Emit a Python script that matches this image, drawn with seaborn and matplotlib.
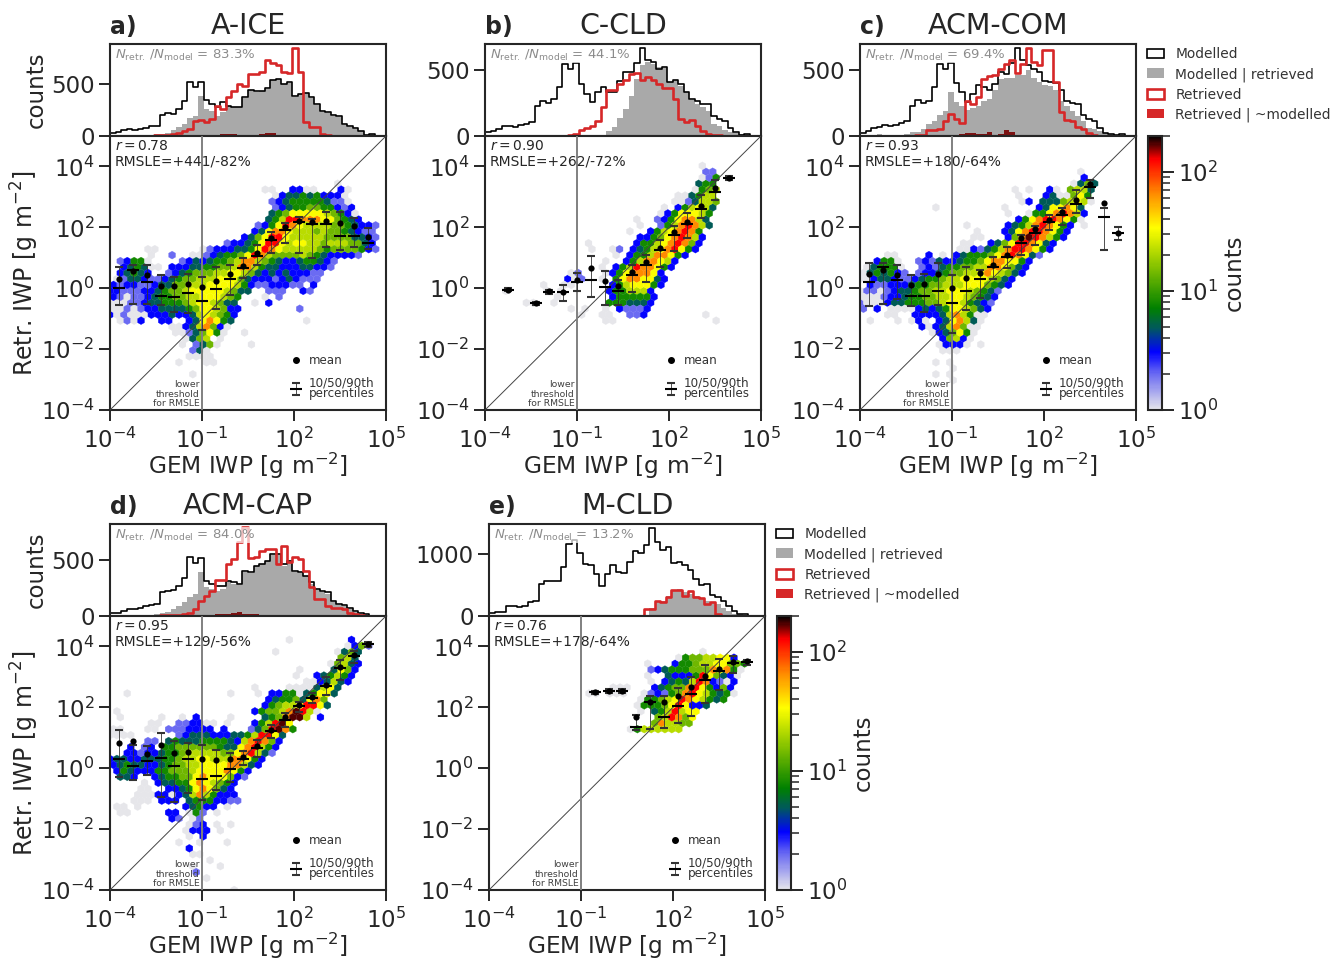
import numpy as np
import matplotlib
matplotlib.use("Agg")
import matplotlib.pyplot as plt
import seaborn as sns
from matplotlib.colors import LinearSegmentedColormap, LogNorm
from matplotlib.lines import Line2D
from matplotlib.patches import Patch

# histogram counts, 50 bins across 10^-4 .. 10^5
A_MODEL = [30,40,55,65,60,70,80,95,100,205,225,215,260,340,520,475,520,350,310,280,325,285,275,275,372,447,430,437,460,540,550,502,518,380,405,415,372,308,243,227,204,195,113,97,75,49,6,15,3,0]
A_GRAY = [0,0,0,3,5,5,8,10,15,20,32,55,88,120,172,195,380,260,236,195,227,285,275,275,365,440,425,430,455,535,545,498,510,375,400,410,365,300,235,220,195,185,105,90,70,45,5,20,12,2]
A_RED = [0,0,0,0,1,2,3,3,5,8,10,20,30,50,65,147,155,135,160,290,260,372,437,500,480,600,600,620,730,705,680,615,605,845,615,130,90,85,15,5,3,0,0,0,0,0,0,0,0,0]
A_EXTRA = [0,0,0,0,0,0,0,0,0,0,0,0,0,0,0,0,0,0,5,10,15,20,20,12,8,10,12,15,30,28,5,0,0,0,0,0,0,0,0,0,0,0,0,0,0,0,0,0,0,0]

B_MODEL = [33,38,50,75,75,68,80,94,105,230,268,250,280,370,548,510,553,395,318,255,331,375,331,331,420,485,485,553,663,574,561,510,523,408,425,395,331,280,268,242,242,153,128,115,59,33,5,12,3,0]
B_GRAY = [0,0,0,0,0,0,0,0,0,0,0,0,0,0,0,0,0,0,0,0,0,0,38,69,140,204,306,434,536,561,548,523,518,408,425,382,330,273,242,217,191,89,76,43,33,23,12,12,3,0]
B_RED = [0,0,0,0,0,0,0,0,0,0,0,0,0,0,3,5,12,43,59,77,115,217,345,345,395,425,472,480,425,446,425,395,365,365,280,128,107,122,77,38,18,10,5,0,0,0,0,0,0,0]
B_EXTRA = [0,0,0,0,0,0,0,0,0,0,0,0,0,0,0,0,0,0,0,0,0,0,0,0,0,0,0,0,0,0,0,0,0,0,0,0,0,0,0,0,0,0,0,0,0,0,0,0,0,0]

C_MODEL = [25,38,58,68,84,76,84,102,110,225,272,250,268,370,545,505,550,400,332,255,318,390,370,345,395,485,472,553,663,574,536,510,485,416,408,403,345,263,252,242,160,128,115,59,25,18,5,12,3,0]
C_GRAY = [0,0,2,12,8,5,8,10,15,33,28,51,89,115,160,186,337,255,230,200,215,230,268,280,345,434,441,441,459,459,497,440,408,390,382,345,268,230,191,153,110,60,50,38,20,18,10,10,2,0]
C_RED = [0,0,0,0,0,1,3,3,2,3,5,8,43,43,51,115,166,128,102,268,242,293,434,451,459,510,548,574,480,543,663,561,536,650,650,408,179,120,115,69,51,25,8,3,0,0,0,0,0,0]
C_EXTRA = [0,0,0,0,0,0,0,0,0,0,0,0,0,0,0,0,0,3,15,20,20,15,15,33,8,15,43,30,5,0,0,0,0,0,0,0,0,0,0,0,0,0,0,0,0,0,0,0,0,0]

D_MODEL = [30,30,45,66,60,69,90,99,111,216,219,231,270,340,525,471,519,315,285,270,270,315,300,285,400,390,450,465,495,549,549,465,490,405,390,360,300,240,219,210,135,110,100,70,45,24,15,3,0,0]
D_GRAY = [0,0,0,2,5,5,5,8,15,25,40,60,85,125,170,200,390,255,240,220,245,300,290,280,395,385,445,460,490,545,540,450,480,395,385,355,290,230,210,200,125,100,90,60,40,20,12,3,0,0]
D_RED = [0,0,0,0,0,0,0,0,3,5,6,8,10,15,25,60,135,180,225,324,324,465,510,660,795,519,530,579,600,600,465,624,480,525,513,405,255,150,150,90,75,70,65,25,15,5,0,0,0,0]
D_EXTRA = [0,0,0,0,0,0,0,0,0,0,0,0,0,0,0,0,0,0,5,15,20,20,25,35,20,15,15,10,0,0,0,0,0,0,0,0,0,0,0,0,0,0,0,0,0,0,0,0,0,0]

E_MODEL = [43,70,70,163,163,147,163,218,245,516,560,571,571,789,1159,1224,1023,843,816,680,490,680,827,707,696,870,1050,1023,1142,1414,1197,1061,1115,854,870,816,734,598,506,516,343,299,245,163,82,27,27,8,0,0]
E_GRAY = [0,0,0,0,0,0,0,0,0,0,0,0,0,0,0,0,0,0,0,0,0,0,0,0,0,0,0,0,5,136,234,245,326,408,435,380,354,326,272,245,218,190,125,82,38,27,10,0,0,0]
E_RED = [0,0,0,0,0,0,0,0,0,0,0,0,0,0,0,0,0,0,0,0,0,0,0,0,0,0,0,0,109,109,245,230,300,424,424,326,397,300,288,200,218,27,0,0,0,0,0,0,0,0]
E_EXTRA = [0,0,0,0,0,0,0,0,0,0,0,0,0,0,0,0,0,0,0,0,0,0,0,0,0,0,0,0,0,0,0,0,0,0,0,0,0,0,0,0,0,0,0,0,0,0,0,0,0,0]

# binned stats in log10 units, 20 x bins
STAT_X = [-3.7,-3.25,-2.8,-2.35,-1.9,-1.45,-1.0,-0.55,-0.1,0.35,0.8,1.25,1.7,2.15,2.6,3.05,3.5,3.95,4.4]

A_IDX = list(range(19))
A_MEAN = [.31,.58,.42,.08,.08,.14,.03,.24,.47,.73,1.15,1.64,2.0,2.22,2.19,2.22,2.14,2.03,1.67]
A_MED = [0,.6,.21,-.24,-.3,-.16,-.42,-.02,.31,.66,1.06,1.57,1.92,2.19,2.1,2.12,1.7,1.73,1.48]
A_P10 = [-.55,-.53,-.53,-.55,-.77,-.8,-1.37,-.69,-.22,.33,.77,1.15,1.48,1.15,.99,1.35,1.24,1.37,1.28]
A_P90 = [.69,.77,.77,.42,.38,.47,.38,.69,.77,.99,1.42,1.86,2.14,2.33,2.27,2.52,2.5,2.3,1.97]

B_IDX = [1,3,4,5,6,7,8,9,10,11,12,13,14,15,16,17]
B_MEAN = [-.05,-.49,-.1,-.11,.27,.68,.25,.08,.53,.85,1.32,1.84,2.19,2.71,3.29,3.62]
B_MED = [-.05,-.49,-.12,-.14,.19,.27,.05,-.08,.43,.75,1.26,1.75,2.1,2.6,3.16,3.61]
B_P10 = [-.1,-.54,-.19,-.41,-.1,-.3,-.55,-.55,-.11,.2,.71,1.21,1.64,2.32,2.9,3.54]
B_P90 = [0,-.44,-.05,.09,.49,1.07,.58,.27,.77,1.1,1.59,2.03,2.47,3.07,3.56,3.69]

C_IDX = list(range(19))
C_MEAN = [.47,.6,.42,.11,.14,.46,.02,.33,.49,.77,1.1,1.64,1.94,2.25,2.49,2.9,3.42,2.79,1.83]
C_MED = [.21,.69,.27,-.24,-.24,-.1,-.47,-.1,.31,.69,1.02,1.5,1.83,2.19,2.41,2.77,3.34,2.33,1.83]
C_P10 = [-.6,-.52,-.36,-.6,-.77,-.55,-1.48,-.71,-.33,.31,.66,1.1,1.42,1.92,2.08,2.47,2.96,1.26,1.57]
C_P90 = [.84,.82,.77,.44,.46,.82,.44,.69,.6,1.04,1.37,1.75,2.03,2.41,2.63,3.23,3.56,2.63,2.0]

D_IDX = list(range(19))
D_MEAN = [.82,.91,.46,.77,.49,.54,.31,.27,.31,.38,.73,1.26,1.68,2.08,2.33,2.74,3.32,3.73,4.09]
D_MED = [.31,.08,.25,.33,.08,.31,-.35,-.25,-.03,.31,.66,1.21,1.59,2.03,2.3,2.71,3.29,3.7,4.08]
D_P10 = [-.3,-.38,-.22,-.93,-1.1,-.8,-1.04,-.71,-.44,.11,.38,.99,1.37,1.86,2.14,2.41,2.9,3.45,3.98]
D_P90 = [1.26,.77,.73,1.17,.88,.82,.77,.6,.49,.55,.93,1.42,1.81,2.19,2.47,3.01,3.56,3.84,4.16]

E_IDX = [7,8,9,10,11,12,13,14,15,16,17,18]
E_MEAN = [2.5,2.53,2.53,1.67,2.19,2.17,2.36,2.66,3.04,3.27,3.48,3.51]
E_MED = [2.5,2.53,2.53,1.35,2.17,1.67,2.06,2.44,2.9,3.2,3.47,3.48]
E_P10 = [2.44,2.48,2.48,1.26,1.29,1.32,1.48,1.7,2.14,2.58,3.12,3.4]
E_P90 = [2.55,2.59,2.59,1.74,2.36,2.36,2.65,3.01,3.4,3.58,3.67,3.56]

# hexbin cell levels, top row first (row 42 down to 0), '.' = empty cell
LEVEL_COUNTS = {"0":1,"1":2,"2":3,"3":5,"4":8,"5":14,"6":22,"7":33,"8":66,"9":126,"a":170}

A_HEX = ["","","","",
"................................." + "0",
"......................00..2200...20",
"........................" + "02334342220",
"......................." + "123444443110",
"........................" + "123445544212",
"......................." + "3457777765420",
"......................." + "34699888775432",
"....................." + "124798766665543221",
"....................." + "237887666565543211",
"..................." + "23579976666655553321",
"................." + "1223479976776656665532",
".....00......01222334798766666545555421",
"......0..1..0012344579865555654322221",
".12440....12323445688654322344321",
"..234300.222334455688643322233221",
".23432..1234555667765" + "3232322211",
".013321123455666777532221232111",
"2122112335566677776421122211.2",
"221112234556777776533" + "..111..21",
"2101123445566777654...0.1",
"0001123344456776533..0.2",
"0010122333345776522........1",
"2010002223223676542",
".0102..22..2378743..........0",
".........002368520",
".........00135740..0",
"...........0356.0",
"..........0.1350....0",
"............130",
"...........0000",
"..........0...00",
"",
"............0",
"","","","","",""]

B_HEX = ["",
"..............................." + "0",
"................................" + "11",
"..............................." + "014",
"..............................." + "344",
".............................." + "0456",
"............................" + "003466",
"..........................." + "0013665",
".........................." + "0.246763",
"........................." + "02477764",
"......................" + "0..12478863",
"......................" + "0..14689863",
"....................." + "0..24678984",
"......................" + "2245789862",
"..............." + "0......2446789852",
"..............." + "0..01.2346789742",
"..................." + "0.244688742",
"................." + "0..24688762",
"................." + "0.246988742",
"............" + "01...024788872",
"............" + "201..0.47887732",
"........" + "0..00.....24677742",
"...0.....0.0......2446662",
".........." + "0.......2444442",
"......00..0.......4443332",
"............0.0..0.21112",
"..............0..00..112........0",
".................00..............0",
"","","","","","","","","","","","","","",""]

C_HEX = ["","",
"................................" + "0",
"................................" + "2",
"..............................." + "0353",
"......................" + "0.0..20.5663",
"......................." + "0...2300574",
"......................." + "02.33356760",
"...........0.........0....2377873",
"....................." + "0..044789862",
"......................." + "2478998740",
"..............." + "0.....2346898742.0",
"................." + "0...2378998742",
"................" + "00...258a98642",
"..............." + "00..2357998732",
".............." + "00213468998742",
"....00....2.0.2344457898731",
"..2440..12132234457887742",
".034440..1213445566887532",
"0343421.1223455667876532",
"00233211234456677776532",
".211222344556667775432",
"011012334556677765431",
"00012234455667765432",
"10002334445567764321",
"1.2.000023234776532",
"....00..22223686400",
".0...0.020.2378630",
".........202368500",
"..........0235740",
"............25620",
"...........02220.0",
"............000",
"",
"...........0.0",
".............0",
"...........0.0",
".............0",
"","","","",""]

D_HEX = [
".........................." + "0........2",
".................................." + "0251",
"........................0........0353",
"................................." + "563",
"................................" + "05632",
"...........................0....3752",
"...........................0..234642",
"............................" + "0023632",
".....................0....00003673",
"..0..............0...0.2244034773",
"......................." + "234453785",
"......................" + "2456679973",
".0...................245568a960",
".0.....0..0.2....0....3458aa6.2",
"......00..112200.0...2469a7",
"00...00.1112222.2...1359a84",
"0000......1233322233469973",
".....11.34333444432689852",
"...2.12.44555555433789642",
"..2212234456666655789631",
"23322333445667766688742",
"2343322345566777788632",
".24322244555677778742",
".332..23445578777521",
".....0.233447876542",
"....00..2234787532",
"....000220236864222",
"...000.222.34442211",
".00.0......23422.0",
".00.....22.041.0",
".........21.01",
"...........012.0.0",
"...........0222.0",
"...........0.2",
"..........0..0...0",
"...........2",
"............00",
"..............0",
"............0...0",
"............1",
"..............0",
"",
"..................0"]

E_HEX = ["","",
"..............................." + "0",
"..........................." + "045566772",
"......................." + "0...24456677554",
"......................." + "12344455587840",
"......................." + "0..32224975320",
"......................." + "0.23436982102",
".................." + "000...234558974252",
".............." + "00.000..01214589764340",
"......................" + "0445679876434",
"....................." + "04445797223",
"......................" + "0.3469677",
"........................" + "569857",
"........................" + "586655",
"...................." + "04666666",
"","","","","","","","","","","","","","","","","","","","","","","","","","",""]

PANELS = [
    dict(tag="a)", title="A-ICE", px=(110, 44), ymax=885, ytick=500, frac="83.3%", r="0.78", rmsle="+441/-82%",
         hists=(A_MODEL, A_GRAY, A_RED, A_EXTRA), idx=A_IDX, stats=(A_MEAN, A_MED, A_P10, A_P90), cells=A_HEX, left=True),
    dict(tag="b)", title="C-CLD", px=(485, 44), ymax=697, ytick=500, frac="44.1%", r="0.90", rmsle="+262/-72%",
         hists=(B_MODEL, B_GRAY, B_RED, B_EXTRA), idx=B_IDX, stats=(B_MEAN, B_MED, B_P10, B_P90), cells=B_HEX, left=False),
    dict(tag="c)", title="ACM-COM", px=(860, 44), ymax=697, ytick=500, frac="69.4%", r="0.93", rmsle="+180/-64%",
         hists=(C_MODEL, C_GRAY, C_RED, C_EXTRA), idx=C_IDX, stats=(C_MEAN, C_MED, C_P10, C_P90), cells=C_HEX, left=False),
    dict(tag="d)", title="ACM-CAP", px=(110, 524), ymax=821, ytick=500, frac="84.0%", r="0.95", rmsle="+129/-56%",
         hists=(D_MODEL, D_GRAY, D_RED, D_EXTRA), idx=D_IDX, stats=(D_MEAN, D_MED, D_P10, D_P90), cells=D_HEX, left=True),
    dict(tag="e)", title="M-CLD", px=(489, 524), ymax=1484, ytick=1000, frac="13.2%", r="0.76", rmsle="+178/-64%",
         hists=(E_MODEL, E_GRAY, E_RED, E_EXTRA), idx=E_IDX, stats=(E_MEAN, E_MED, E_P10, E_P90), cells=E_HEX, left=False),
]

W, H = 1330, 959
GRID_NX, GRID_NY = 40, 23
CMAP = LinearSegmentedColormap.from_list("counts", [
    (0.0, "#e6e6ea"), (0.13, "#6a6af2"), (0.21, "#0000ff"), (0.30, "#005a5a"), (0.37, "#008000"),
    (0.665, "#ffff00"), (0.79, "#ff8c00"), (0.915, "#ff0000"), (1.0, "#000000")])
NORM = LogNorm(1, 200)
RED = "#d62728"

sns.set_theme(context="notebook", style="ticks", rc={"axes.linewidth": 1.5})


def add_px_axes(fig, x0, y0, w, h):
    return fig.add_axes([x0 / W, 1 - (y0 + h) / H, w / W, h / H])


def cells_to_xy(rows):
    xs, ys, cs = [], [], []
    sx, sy = 9 / GRID_NX, 9 / GRID_NY
    for r, row in enumerate(rows):
        k = 42 - r
        for i, ch in enumerate(row):
            if ch == ".":
                continue
            xs.append(-4 + (i + 0.5 * (k % 2)) * sx)
            ys.append(-4 + 0.5 * k * sy)
            cs.append(LEVEL_COUNTS[ch])
    return np.array(xs), np.array(ys), np.array(cs)


def draw_hist(ax, p):
    edges = list(np.linspace(-4, 5, 51))
    centers = 0.5 * (np.array(edges[:-1]) + np.array(edges[1:]))
    model, gray, red, extra = p["hists"]
    sns.histplot(x=centers, weights=gray, bins=edges, element="step", fill=True, color="#a9a9a9", alpha=1, linewidth=0, ax=ax)
    sns.histplot(x=centers, weights=model, bins=edges, element="step", fill=False, color="black", linewidth=1.2, ax=ax)
    sns.histplot(x=centers, weights=extra, bins=edges, element="step", fill=True, color="#7c1212", alpha=1, linewidth=0, ax=ax)
    sns.histplot(x=centers, weights=red, bins=edges, element="step", fill=False, color=RED, linewidth=1.9, ax=ax)
    ax.set_xlim(-4, 5)
    ax.set_ylim(0, p["ymax"])
    ax.set_xticks([])
    ax.set_xlabel("")
    ax.set_yticks([0, p["ytick"]])
    ax.tick_params(axis="y", labelsize=16.5, length=8, width=1.4, pad=3)
    ax.set_ylabel("counts" if p["left"] else "", fontsize=16.5)
    ax.yaxis.set_label_coords(-0.226, 0.5)
    ax.set_title(p["title"], fontsize=20.5, pad=1)
    ax.set_title(p["tag"], loc="left", fontsize=17, fontweight="bold", pad=7)
    ax.text(0.018, 0.96, r"$N_{\mathrm{retr.}}\,/N_{\mathrm{model}}$ = " + p["frac"], transform=ax.transAxes,
            va="top", fontsize=9.5, color="#8c8c8c", bbox=dict(fc="white", ec="none", alpha=0.7, pad=0.5), zorder=5)


def draw_main(ax, p):
    x, y, c = cells_to_xy(p["cells"])
    ax.hexbin(x, y, C=c, gridsize=(GRID_NX, GRID_NY), extent=(-4, 5, -4, 5), reduce_C_function=np.sum,
              cmap=CMAP, norm=NORM, linewidths=0.2, edgecolors="face")
    ax.plot([-4, 5], [-4, 5], color="#444444", lw=0.7, zorder=3)
    ax.axvline(-1, color="#808080", lw=1.4, zorder=3)
    mean, med, p10, p90 = [np.array(v) for v in p["stats"]]
    bx = np.array(STAT_X)[p["idx"]]
    eb = ax.errorbar(bx, med, yerr=[med - p10, p90 - med], fmt="_", color="black", ms=9, mew=1.5,
                     elinewidth=0.6, ecolor="#333333", capsize=3, capthick=0.5, zorder=4)
    sns.scatterplot(x=bx, y=mean, color="black", s=20, linewidth=0, zorder=5, ax=ax)
    ax.set_xlim(-4, 5)
    ax.set_ylim(-4, 5)
    ax.set_xticks([-4, -1, 2, 5], ["$10^{-4}$", "$10^{-1}$", "$10^{2}$", "$10^{5}$"])
    ax.set_yticks([-4, -2, 0, 2, 4], ["$10^{-4}$", "$10^{-2}$", "$10^{0}$", "$10^{2}$", "$10^{4}$"])
    ax.tick_params(axis="y", labelsize=16.5, length=8, width=1.4, pad=3)
    ax.tick_params(axis="x", labelsize=16.5, length=8, width=1.4, pad=4.5)
    ax.set_xlabel("GEM IWP [g m$^{-2}$]", fontsize=16.8, labelpad=-1.5)
    if p["left"]:
        ax.set_ylabel("Retr. IWP [g m$^{-2}$]", fontsize=17)
        ax.yaxis.set_label_coords(-0.25, 0.5)
    ax.text(0.018, 0.99, "$r = $" + p["r"] + "\nRMSLE=" + p["rmsle"], transform=ax.transAxes, va="top",
            fontsize=10, color="#262626", linespacing=1.15)
    ax.text(-1.07, -3.93, "lower\nthreshold\nfor RMSLE", ha="right", va="bottom", fontsize=6.7, color="#404040", linespacing=1.05)
    mean_handle = Line2D([], [], ls="", marker="o", color="black", ms=4)
    leg = ax.legend([mean_handle, eb], ["mean", "10/50/90th\npercentiles"], loc="lower right", frameon=False, fontsize=8.6,
                    bbox_to_anchor=(0.995, 0.0), labelspacing=0.75, handlelength=1.0, handletextpad=0.6, borderpad=0.3,
                    labelcolor="#333333")
    for t in leg.get_texts():
        t.set_linespacing(0.8)
    return ax.collections[0]


def draw_colorbar(fig, mappable, x0, y0):
    cax = add_px_axes(fig, x0, y0, 14, 274)
    cb = fig.colorbar(mappable, cax=cax)
    cb.outline.set_linewidth(1.5)
    cax.tick_params(which="major", length=8.6, width=1.4, labelsize=16.5, pad=3)
    cax.tick_params(which="minor", length=5.6, width=1.1)
    cb.set_label("counts", fontsize=16.5, labelpad=3)


def draw_hist_legend(ax):
    handles = [Patch(fc="white", ec="black", lw=1.2), Patch(fc="#a9a9a9", ec="none"),
               Patch(fc="white", ec=RED, lw=1.9), Patch(fc=RED, ec="none")]
    labels = ["Modelled", "Modelled | retrieved", "Retrieved", "Retrieved | ~modelled"]
    ax.legend(handles, labels, loc="upper left", bbox_to_anchor=(1.005, 1.07), frameon=False, fontsize=9.9,
              labelspacing=0.43, handlelength=1.2, handletextpad=0.85, borderpad=0.2, labelcolor="#333333")


fig = plt.figure(figsize=(W / 100, H / 100), dpi=100)
for p in PANELS:
    x0, y0 = p["px"]
    ax_hist = add_px_axes(fig, x0, y0, 276, 92)
    ax_main = add_px_axes(fig, x0, y0 + 92, 276, 274)
    draw_hist(ax_hist, p)
    hb = draw_main(ax_main, p)
    if p["tag"] == "c)":
        draw_hist_legend(ax_hist)
        draw_colorbar(fig, hb, 1148, 136)
    if p["tag"] == "e)":
        draw_hist_legend(ax_hist)
        draw_colorbar(fig, hb, 777, 616)

fig.savefig("out.png", dpi=100)
